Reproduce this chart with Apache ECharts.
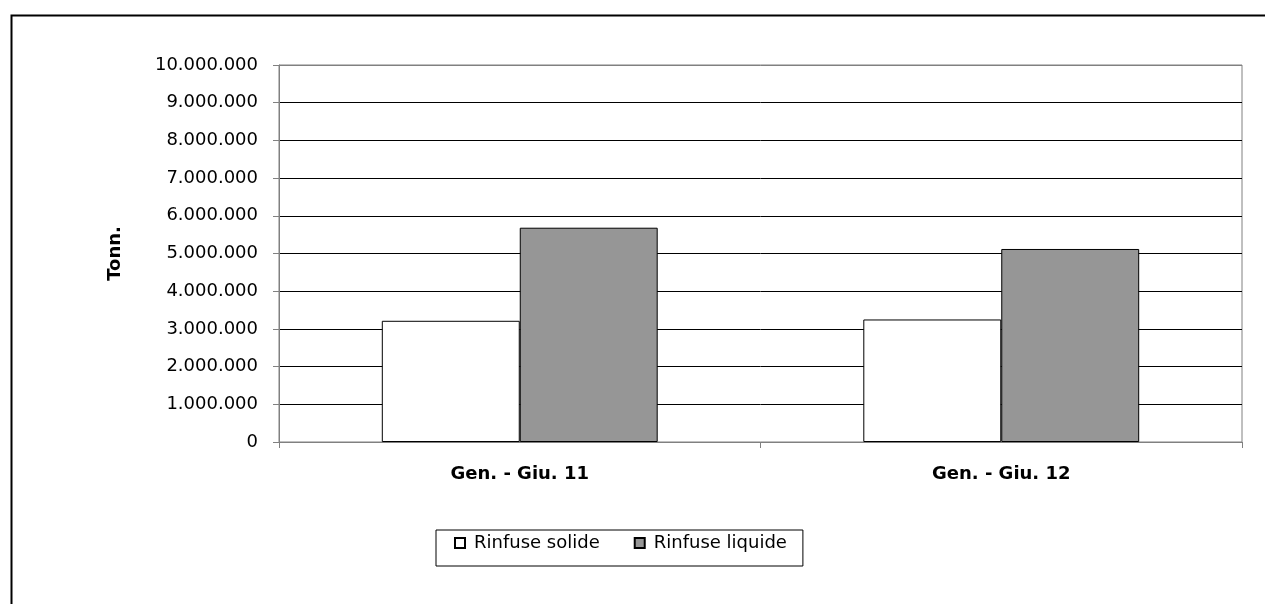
<!DOCTYPE html>
<html>
<head>
<meta charset="utf-8">
<script src="https://cdn.jsdelivr.net/npm/echarts@6/dist/echarts.min.js"></script>
<style>
html,body{margin:0;padding:0;background:#fff;}
#chart{width:1265px;height:604px;}
</style>
</head>
<body>
<div id="chart"></div>
<script>
const categories = ['Gen. - Giu. 11', 'Gen. - Giu. 12'];
const seriesNames = ['Rinfuse solide', 'Rinfuse liquide'];
const solide = [3215000, 3250000];
const liquide = [5684000, 5120000];
const yTicks = { min: 0, max: 10000000, interval: 1000000 };

function fmt(v){
  return String(Math.round(v)).replace(/\B(?=(\d{3})+(?!\d))/g, '.');
}

const font = '"DejaVu Sans", Arial, sans-serif';
const chart = echarts.init(document.getElementById('chart'), null, {renderer:'canvas'});
const nLines = (yTicks.max - yTicks.min) / yTicks.interval;
const splitColors = [];
for (let i = 0; i <= nLines; i++) {
  splitColors.push(i === 0 || i === nLines ? '#808080' : '#000000');
}
chart.setOption({
  animation: false,
  backgroundColor: '#ffffff',
  graphic: [{
    type: 'rect', left: 9, top: 13, z: 100,
    shape: { width: 1270, height: 610 },
    style: { fill: 'none', stroke: '#000', lineWidth: 2 }
  }],
  grid: {
    left: 279, right: 23, top: 65, bottom: 162,
    show: true, borderColor: '#808080', borderWidth: 1, backgroundColor: '#fff'
  },
  legend: {
    data: seriesNames,
    left: 436, top: 530,
    orient: 'horizontal',
    icon: 'rect',
    itemWidth: 10, itemHeight: 10,
    itemGap: 34,
    padding: [3, 16, 13, 18],
    borderColor: '#000', borderWidth: 1,
    textStyle: { fontFamily: font, fontSize: 18, color: '#000', lineHeight: 20, padding: [0, 0, 0, 4] }
  },
  xAxis: {
    type: 'category',
    data: categories,
    axisLine: { show: true, lineStyle: { color: '#808080', width: 1 } },
    axisTick: { show: true, length: 6, interval: 0, lineStyle: { color: '#808080' } },
    axisLabel: { fontFamily: font, fontSize: 18, fontWeight: 'bold', color: '#000', margin: 23 },
    splitLine: { show: false }
  },
  yAxis: {
    type: 'value',
    min: yTicks.min, max: yTicks.max, interval: yTicks.interval,
    name: 'Tonn.',
    nameLocation: 'middle',
    nameGap: 155,
    nameTextStyle: { fontFamily: font, fontSize: 18, fontWeight: 'bold', color: '#000' },
    axisLine: { show: true, lineStyle: { color: '#808080', width: 1 } },
    axisTick: { show: true, length: 6, lineStyle: { color: '#808080' } },
    axisLabel: { fontFamily: font, fontSize: 18, color: '#000', margin: 21, formatter: fmt },
    splitLine: { show: true, lineStyle: { color: splitColors, width: 1 } }
  },
  series: [
    {
      name: seriesNames[0], type: 'bar', data: solide,
      barGap: '0%', barCategoryGap: '42.7%',
      itemStyle: { color: '#ffffff', borderColor: '#000', borderWidth: 1 }
    },
    {
      name: seriesNames[1], type: 'bar', data: liquide,
      barGap: '0%', barCategoryGap: '42.7%',
      itemStyle: { color: '#969696', borderColor: '#000', borderWidth: 1 }
    }
  ]
});
</script>
</body>
</html>
